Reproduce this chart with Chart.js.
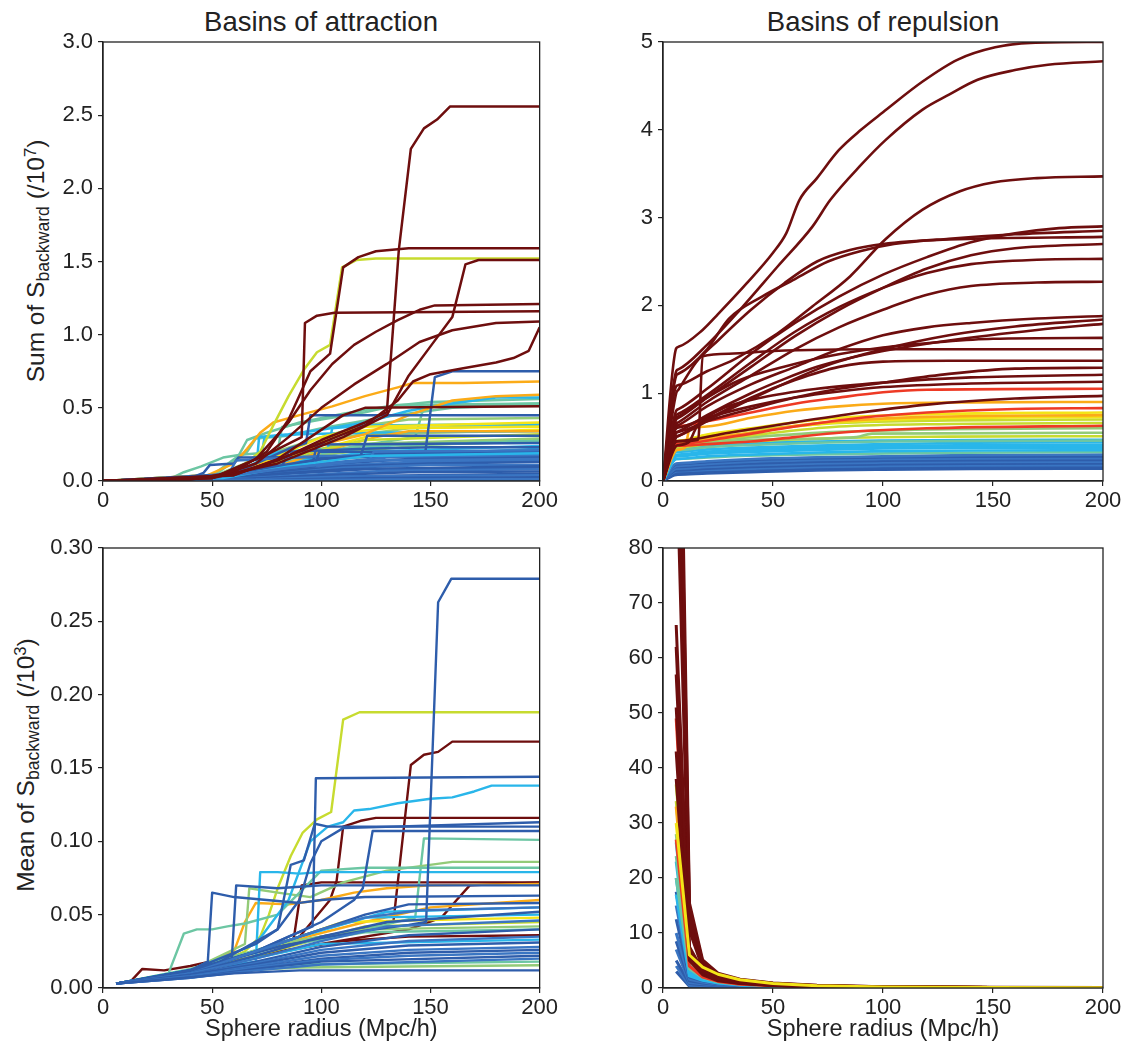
<!DOCTYPE html>
<html><head><meta charset="utf-8">
<script src="https://cdn.jsdelivr.net/npm/chart.js@4.4.1/dist/chart.umd.min.js"></script>
<style>
body{margin:0;background:#fff;width:1129px;height:1055px;position:relative;overflow:hidden;font-family:"Liberation Sans",Arial,Helvetica,sans-serif;color:#222}
canvas{position:absolute}
.title{position:absolute;font-size:27.5px;transform:translate(-50%,-50%);white-space:nowrap;line-height:1.15}
.ylab{position:absolute;font-size:24.5px;white-space:nowrap;transform:translate(-50%,-50%) rotate(-90deg);line-height:1.15}
.ylab .sub{font-size:0.72em;position:relative;top:0.3em}
.ylab .sup{font-size:0.68em;position:relative;top:-0.5em}
</style></head>
<body>
<div class="title" style="left:321px;top:22px">Basins of attraction</div>
<div class="title" style="left:883px;top:22px">Basins of repulsion</div>
<div class="ylab" style="left:36px;top:261px">Sum of S<span class="sub">backward</span> (/10<span class="sup">7</span>)</div>
<div class="ylab" style="left:26px;top:765px">Mean of S<span class="sub">backward</span> (/10<span class="sup">3</span>)</div>
<canvas id="cA" width="560" height="520" style="left:0;top:0"></canvas>
<canvas id="cB" width="569" height="520" style="left:560px;top:0"></canvas>
<canvas id="cC" width="560" height="535" style="left:0;top:520px"></canvas>
<canvas id="cD" width="569" height="535" style="left:560px;top:520px"></canvas>
<script>
// colour levels (colour-mapped basin property, low -> high)
const palette = ['#2e5dab','#3a75c2','#29b6ea','#6cc6a3','#93cb78','#c7db2f','#f3e417','#fbab18','#ee3a25','#6e0e0e'];

const xTicks = [0, 50, 100, 150, 200];

// ---- Panel A: Sum of S_backward, basins of attraction (/1e7) ----
const sumAttraction = [
  [[0,0],[50,0.03],[66,0.2],[70,0.29],[85,0.31],[100,0.36],[130,0.44],[160,0.5],[200,0.52]],
  [[0,0],[55,0.03],[80,0.14],[110,0.3],[140,0.36],[200,0.38]],
  [[0,0],[65,0.04],[95,0.2],[125,0.32],[200,0.35]],
  [[0,0],[60,0.04],[72,0.12],[74,0.3],[90,0.32],[120,0.33],[200,0.34]],
  [[0,0],[50,0.02],[80,0.1],[110,0.2],[140,0.26],[200,0.28]],
  [[0,0],[60,0.03],[100,0.18],[150,0.25],[200,0.27]],
  [[0,0],[30,0.01],[37,0.06],[45,0.1],[55,0.16],[63,0.18],[80,0.2],[82,0.37],[100,0.42],[120,0.47],[135,0.52],[200,0.53]],
  [[0,0],[50,0.04],[62,0.17],[66,0.28],[75,0.33],[90,0.4],[110,0.46],[130,0.51],[150,0.54],[200,0.56]],
  [[0,0],[60,0.04],[100,0.2],[143,0.3],[147,0.51],[200,0.53]],
  [[0,0],[55,0.03],[85,0.15],[120,0.24],[200,0.27]],
  [[0,0],[50,0.03],[75,0.18],[100,0.3],[120,0.38],[140,0.42],[200,0.43]],
  [[0,0],[50,0.03],[80,0.15],[110,0.25],[200,0.29]],
  [[0,0],[60,0.03],[100,0.14],[140,0.19],[200,0.21]],
  [[0,0],[40,0.01],[70,0.05],[71.5,0.3],[85,0.32],[100,0.35],[120,0.4],[140,0.48],[160,0.53],[180,0.57],[200,0.57]],
  [[0,0],[60,0.05],[80,0.2],[103,0.22],[105,0.36],[120,0.38],[200,0.39]],
  [[0,0],[60,0.03],[90,0.12],[120,0.2],[200,0.24]],
  [[0,0],[60,0.03],[100,0.15],[200,0.22]],
  [[0,0],[55,0.03],[80,0.12],[100,0.16],[125,0.19],[200,0.2]],
  [[0,0],[60,0.05],[85,0.2],[100,0.3],[120,0.37],[200,0.4]],
  [[0,0],[60,0.04],[90,0.2],[110,0.33],[130,0.36],[200,0.37]],
  [[0,0],[45,0.02],[60,0.12],[66,0.22],[72,0.33],[78,0.4],[90,0.45],[105,0.51],[120,0.58],[135,0.64],[142,0.67],[165,0.67],[200,0.68]],
  [[0,0],[60,0.05],[80,0.15],[100,0.25],[120,0.32],[140,0.45],[160,0.55],[180,0.58],[200,0.59]],
  [[0,0],[70,0.05],[100,0.2],[125,0.3],[140,0.34],[200,0.34]],
  [[0,0],[60,0.04],[90,0.18],[120,0.28],[200,0.32]],
  [[0,0],[40,0.01],[60,0.06],[72,0.2],[78,0.38],[85,0.58],[92,0.76],[98,0.88],[104,0.93],[109.5,1.46],[116,1.51],[125,1.52],[200,1.52]],
  [[0,0],[50,0.02],[80,0.06],[120,0.1],[147,0.12],[152,0.71],[160,0.75],[200,0.75]],
  [[0,0],[60,0.05],[85,0.22],[93,0.26],[95,0.45],[200,0.45]],
  [[0,0],[60,0.04],[100,0.15],[118,0.17],[121,0.31],[200,0.31]],
  [[0,0],[60,0.04],[90,0.1],[96,0.12],[98,0.25],[200,0.26]],
  [[0,0],[60,0.04],[82,0.1],[85,0.2],[120,0.22],[150,0.23],[200,0.23]],
  [[0,0],[40,0.02],[46,0.055],[49,0.11],[60,0.12],[62,0.16],[200,0.17]],
  [[0,0],[40,0.01],[58,0.06],[61,0.14],[100,0.17],[200,0.18]],
  [[0,0],[40,0.01],[70,0.08],[100,0.15],[130,0.19],[200,0.2]],
  [[0,0],[45,0.01],[75,0.07],[100,0.12],[130,0.16],[200,0.17]],
  [[0,0],[40,0.01],[70,0.06],[100,0.11],[140,0.15],[200,0.16]],
  [[0,0],[45,0.01],[75,0.06],[100,0.1],[140,0.13],[200,0.14]],
  [[0,0],[50,0.01],[80,0.06],[110,0.1],[150,0.12],[200,0.13]],
  [[0,0],[50,0.01],[80,0.05],[110,0.09],[150,0.11],[200,0.11]],
  [[0,0],[50,0.01],[80,0.05],[110,0.08],[200,0.1]],
  [[0,0],[55,0.01],[85,0.05],[120,0.08],[200,0.09]],
  [[0,0],[55,0.01],[90,0.04],[130,0.07],[200,0.08]],
  [[0,0],[60,0.01],[100,0.04],[140,0.06],[200,0.065]],
  [[0,0],[60,0.01],[100,0.03],[200,0.05]],
  [[0,0],[70,0.01],[110,0.03],[200,0.04]],
  [[0,0],[70,0.005],[120,0.02],[200,0.025]],
  [[0,0],[80,0.005],[130,0.01],[200,0.012]],
  [[0,0],[60,0.04],[97,0.1],[99,0.2],[200,0.2]],
  [[0,0],[50,0.02],[80,0.08],[110,0.13],[122,0.14],[124,0.2],[200,0.21]],
  [[0,0],[55,0.02],[85,0.1],[120,0.17],[200,0.19]],
  [[0,0],[50,0.02],[85,0.09],[120,0.14],[200,0.15]],
  [[0,0],[40,0.01],[60,0.05],[80,0.14],[100,0.28],[120,0.4],[130,0.47],[135.5,1.58],[141,2.27],[147,2.41],[153,2.47],[159,2.56],[200,2.56]],
  [[0,0],[40,0.01],[60,0.06],[75,0.2],[85,0.42],[95,0.75],[104,0.87],[110,1.46],[117,1.53],[125,1.57],[140,1.59],[200,1.59]],
  [[0,0],[50,0.02],[80,0.12],[110,0.3],[130,0.45],[140,0.72],[150,0.92],[160,1.12],[166,1.48],[172,1.51],[200,1.51]],
  [[0,0],[50,0.02],[70,0.15],[85,0.4],[95,0.62],[105,0.8],[115,0.93],[125,1.02],[135,1.1],[145,1.17],[152,1.2],[200,1.21]],
  [[0,0],[50,0.02],[75,0.18],[91,0.3],[92.5,1.08],[98,1.13],[106,1.15],[200,1.16]],
  [[0,0],[50,0.02],[70,0.12],[85,0.3],[100,0.5],[115,0.66],[130,0.8],[145,0.95],[160,1.03],[180,1.08],[200,1.09]],
  [[0,0],[60,0.04],[90,0.2],[120,0.38],[135,0.55],[142,0.68],[150,0.73],[165,0.77],[180,0.81],[188,0.84],[195,0.89],[200,1.05]],
  [[0,0],[60,0.04],[80,0.15],[95,0.3],[110,0.45],[120,0.5],[200,0.51]]
];
const sumAttractionLevel = [3,4,6,2,2,4,
  3,3,3,3,4,4,4,2,2,2,2,2,6,6,7,7,7,5,5,
  0,0,0,0,0,0,1,0,1,0,1,0,1,0,0,1,0,0,1,0,1,
  0,1,2,1,
  9,9,9,9,9,9,9,9];

// ---- Panel B: Sum of S_backward, basins of repulsion (/1e7) ----
const sumRepulsion = [
  [[0,0],[6,0.07],[7,0.071],[20,0.085],[40,0.1],[70,0.12],[100,0.13],[140,0.138],[200,0.14]],
  [[0,0],[6,0.09],[7,0.091],[20,0.105],[40,0.12],[70,0.14],[100,0.15],[140,0.158],[200,0.16]],
  [[0,0],[6,0.11],[7,0.111],[20,0.125],[40,0.14],[70,0.16],[100,0.17],[140,0.178],[200,0.18]],
  [[0,0],[6,0.12],[7,0.121],[20,0.14],[40,0.16],[70,0.18],[100,0.19],[140,0.198],[200,0.2]],
  [[0,0],[6,0.14],[7,0.141],[20,0.16],[40,0.18],[70,0.2],[100,0.21],[140,0.218],[200,0.22]],
  [[0,0],[6,0.16],[7,0.161],[20,0.18],[40,0.2],[70,0.22],[100,0.23],[140,0.238],[200,0.24]],
  [[0,0],[6,0.17],[7,0.172],[20,0.195],[40,0.22],[70,0.24],[100,0.25],[140,0.258],[200,0.26]],
  [[0,0],[6,0.19],[7,0.192],[20,0.215],[40,0.24],[70,0.26],[100,0.27],[140,0.278],[200,0.28]],
  [[0,0],[6,0.2],[7,0.202],[20,0.225],[40,0.25],[70,0.27],[100,0.28],[140,0.295],[200,0.3]],
  [[0,0],[6,0.25],[7,0.251],[30,0.28],[60,0.3],[120,0.32],[200,0.33]],
  [[0,0],[6,0.25],[7,0.252],[20,0.28],[40,0.3],[70,0.325],[100,0.34],[140,0.348],[200,0.35]],
  [[0,0],[6,0.28],[7,0.282],[20,0.31],[40,0.33],[70,0.355],[100,0.37],[140,0.378],[200,0.38]],
  [[0,0],[6,0.29],[7,0.292],[20,0.325],[40,0.35],[70,0.37],[100,0.385],[140,0.392],[200,0.395]],
  [[0,0],[6,0.3],[7,0.302],[20,0.335],[40,0.36],[70,0.385],[100,0.4],[140,0.407],[200,0.41]],
  [[0,0],[6,0.33],[7,0.332],[20,0.36],[40,0.38],[70,0.405],[100,0.42],[140,0.435],[200,0.44]],
  [[0,0],[6,0.36],[7,0.363],[20,0.4],[40,0.43],[70,0.45],[100,0.46],[140,0.467],[200,0.47]],
  [[0,0],[6,0.35],[7,0.352],[20,0.385],[40,0.41],[70,0.435],[100,0.45],[140,0.457],[200,0.46]],
  [[0,0],[6,0.38],[7,0.383],[20,0.42],[40,0.45],[80,0.49],[130,0.505],[200,0.51]],
  [[0,0],[6,0.4],[7,0.403],[20,0.44],[40,0.47],[88,0.5],[95,0.54],[200,0.55]],
  [[0,0],[6,0.42],[7,0.423],[20,0.46],[40,0.5],[80,0.56],[130,0.59],[200,0.6]],
  [[0,0],[6,0.4],[7,0.404],[20,0.46],[40,0.52],[80,0.62],[130,0.65],[200,0.66]],
  [[0,0],[6,0.45],[7,0.455],[20,0.52],[40,0.58],[80,0.66],[130,0.69],[200,0.7]],
  [[0,0],[6,0.42],[7,0.425],[20,0.49],[40,0.55],[60,0.62],[80,0.67],[120,0.71],[200,0.73]],
  [[0,0],[6,0.45],[7,0.456],[20,0.53],[40,0.6],[60,0.67],[80,0.72],[120,0.76],[200,0.78]],
  [[0,0],[6,0.4],[7,0.406],[20,0.48],[40,0.55],[60,0.63],[80,0.68],[120,0.73],[200,0.75]],
  [[0,0],[6,0.35],[7,0.357],[10,0.38],[12,0.58],[20,0.62],[40,0.72],[60,0.8],[80,0.85],[100,0.88],[140,0.895],[200,0.9]],
  [[0,0],[6,0.4],[7,0.401],[20,0.42],[40,0.45],[60,0.5],[80,0.55],[120,0.6],[200,0.63]],
  [[0,0],[6,0.42],[7,0.423],[30,0.5],[60,0.62],[90,0.72],[120,0.78],[160,0.82],[200,0.83]],
  [[0,0],[6,0.62],[7,0.624],[20,0.68],[40,0.78],[60,0.88],[80,0.95],[100,1.01],[120,1.04],[200,1.05]],
  [[0,0],[6,0.45],[7,0.454],[30,0.55],[60,0.67],[90,0.78],[120,0.87],[160,0.94],[200,0.97]],
  [[0,0],[6,0.6],[7,0.609],[20,0.72],[40,0.85],[60,0.95],[80,1.02],[100,1.07],[140,1.11],[200,1.13]],
  [[0,0],[6,0.4],[7,0.408],[12,0.45],[15,0.6],[25,0.8],[45,0.95],[70,1.05],[100,1.12],[140,1.18],[200,1.21]],
  [[0,0],[6,0.55],[7,0.559],[20,0.68],[40,0.82],[60,0.95],[80,1.05],[100,1.12],[130,1.22],[160,1.28],[200,1.29]],
  [[0,0],[6,0.5],[7,0.514],[20,0.7],[40,0.95],[60,1.15],[80,1.3],[100,1.36],[130,1.37],[200,1.37]],
  [[0,0],[6,0.45],[7,0.452],[16,0.47],[18,1.42],[30,1.45],[50,1.48],[100,1.5],[200,1.5]],
  [[0,0],[6,0.72],[7,0.736],[20,0.95],[35,1.15],[55,1.3],[75,1.42],[100,1.52],[125,1.58],[150,1.62],[200,1.63]],
  [[0,0],[6,0.55],[7,0.564],[20,0.75],[40,1.0],[55,1.16],[70,1.3],[85,1.4],[100,1.48],[130,1.6],[170,1.72],[200,1.79]],
  [[0,0],[6,0.5],[7,0.513],[25,0.75],[50,1.05],[75,1.32],[100,1.5],[130,1.66],[160,1.76],[200,1.84]],
  [[0,0],[6,0.62],[7,0.636],[20,0.85],[40,1.1],[60,1.3],[80,1.5],[100,1.66],[120,1.75],[140,1.8],[170,1.85],[200,1.88]],
  [[0,0],[6,0.65],[7,0.668],[20,0.9],[40,1.2],[60,1.5],[80,1.75],[100,1.95],[120,2.12],[140,2.22],[170,2.26],[200,2.27]],
  [[0,0],[6,0.75],[7,0.766],[20,0.98],[40,1.35],[60,1.7],[80,1.98],[100,2.2],[120,2.37],[140,2.47],[170,2.52],[200,2.53]],
  [[0,0],[6,0.7],[7,0.718],[20,0.95],[40,1.3],[60,1.65],[80,1.95],[100,2.2],[120,2.42],[140,2.57],[160,2.65],[200,2.7]],
  [[0,0],[6,1.0],[7,1.039],[15,1.35],[25,1.6],[40,1.95],[55,2.25],[70,2.5],[85,2.63],[100,2.7],[130,2.75],[200,2.78]],
  [[0,0],[6,1.2],[7,1.221],[20,1.5],[30,1.85],[45,2.1],[60,2.3],[75,2.5],[90,2.62],[105,2.7],[130,2.76],[160,2.81],[200,2.85]],
  [[0,0],[6,0.8],[7,0.818],[20,1.05],[40,1.45],[60,1.8],[80,2.1],[100,2.35],[120,2.55],[140,2.72],[160,2.82],[180,2.88],[200,2.9]],
  [[0,0],[6,1.08],[7,1.092],[20,1.25],[32,1.38],[52,1.68],[68,1.99],[85,2.33],[101,2.75],[118,3.09],[135,3.3],[150,3.4],[170,3.45],[200,3.47]],
  [[0,0],[6,1.25],[7,1.271],[20,1.55],[35,1.95],[52,2.44],[68,2.9],[76,3.2],[90,3.6],[101,3.88],[118,4.23],[130,4.4],[143,4.57],[160,4.68],[175,4.74],[200,4.78]],
  [[0,0],[6,1.51],[7,1.528],[18,1.72],[25,1.9],[38,2.25],[50,2.6],[56,2.82],[62,3.2],[70,3.45],[80,3.77],[90,4.0],[100,4.2],[118,4.55],[134,4.8],[151,4.94],[167,4.99],[200,5.0]]
];
const sumRepulsionLevel = [0,0,1,0,1,0,1,0,1,
  3,2,2,2,2,2,2,3,
  5,4,4,5,5,6,6,7,7,
  8,8,8,
  9,9,9,9,9,9,9,9,9,9,9,9,9,9,9,9,9,9,9];

// ---- Panel C: Mean of S_backward, basins of attraction (/1e3) ----
const meanAttraction = [
  [[6,0.003],[40,0.012],[80,0.025],[110,0.032],[140,0.035],[200,0.036]],
  [[6,0.003],[50,0.015],[100,0.03],[140,0.04],[155,0.048],[162,0.06],[168,0.07],[200,0.072]],
  [[6,0.003],[13,0.005],[18,0.013],[28,0.012],[40,0.015],[70,0.025],[100,0.035],[125,0.042],[133,0.045],[141,0.152],[147,0.159],[153.5,0.161],[160,0.168],[200,0.168]],
  [[6,0.003],[40,0.012],[70,0.025],[90,0.035],[104,0.06],[107,0.073],[110,0.11],[118,0.114],[125,0.116],[200,0.116]],
  [[6,0.003],[40,0.012],[70,0.025],[87,0.03],[91,0.07],[100,0.072],[200,0.072]],
  [[6,0.003],[30,0.008],[50,0.015],[65,0.025],[72,0.035],[76,0.05],[80,0.068],[86,0.09],[91.5,0.106],[98,0.115],[104.5,0.12],[110,0.183],[117.5,0.188],[200,0.188]],
  [[6,0.003],[40,0.012],[60,0.025],[65,0.045],[70,0.058],[85,0.057],[100,0.06],[115,0.065],[130,0.068],[150,0.07],[200,0.071]],
  [[6,0.003],[50,0.015],[80,0.03],[120,0.045],[150,0.055],[200,0.06]],
  [[6,0.003],[50,0.015],[80,0.03],[110,0.045],[200,0.048]],
  [[6,0.003],[50,0.014],[90,0.03],[120,0.042],[200,0.045]],
  [[6,0.003],[40,0.013],[80,0.03],[120,0.04],[143,0.048],[147,0.102],[200,0.101]],
  [[6,0.003],[40,0.012],[65,0.03],[67,0.068],[80,0.065],[95,0.062],[110,0.072],[130,0.08],[160,0.086],[200,0.086]],
  [[6,0.003],[30,0.01],[37,0.037],[43,0.04],[50,0.04],[57,0.042],[65,0.044],[80,0.05],[100,0.08],[120,0.082],[200,0.082]],
  [[6,0.003],[40,0.012],[80,0.028],[120,0.038],[200,0.04]],
  [[6,0.003],[40,0.012],[80,0.03],[120,0.04],[200,0.042]],
  [[6,0.003],[50,0.012],[90,0.016],[200,0.018]],
  [[6,0.003],[50,0.011],[90,0.014],[200,0.0155]],
  [[6,0.003],[40,0.012],[70,0.018],[72,0.079],[80,0.079],[90,0.078],[100,0.079],[200,0.079]],
  [[6,0.003],[40,0.012],[70,0.03],[85,0.06],[95,0.1],[103,0.11],[110,0.113],[115,0.121],[122,0.122],[135,0.126],[150,0.129],[160,0.13],[170,0.134],[178,0.138],[200,0.138]],
  [[6,0.003],[50,0.015],[90,0.035],[120,0.048],[200,0.05]],
  [[6,0.003],[50,0.015],[90,0.035],[130,0.052],[200,0.055]],
  [[6,0.003],[50,0.014],[100,0.03],[200,0.033]],
  [[6,0.003],[20,0.006],[40,0.012],[60,0.02],[80,0.028],[100,0.034],[120,0.039],[140,0.043],[148,0.045],[153.5,0.263],[159.5,0.279],[200,0.279]],
  [[6,0.003],[30,0.008],[50,0.016],[70,0.025],[85,0.035],[96,0.042],[97.5,0.143],[200,0.144]],
  [[6,0.003],[40,0.012],[70,0.03],[80,0.04],[86,0.084],[92,0.087],[97,0.112],[103,0.11],[200,0.11]],
  [[6,0.003],[40,0.012],[70,0.025],[100,0.045],[115,0.06],[119,0.068],[123.5,0.107],[200,0.107]],
  [[6,0.003],[50,0.015],[80,0.04],[90,0.06],[95,0.085],[100,0.1],[110,0.109],[200,0.113]],
  [[6,0.003],[40,0.012],[48,0.018],[50,0.065],[60,0.062],[75,0.06],[90,0.058],[100,0.06],[120,0.062],[200,0.063]],
  [[6,0.003],[40,0.012],[59,0.02],[61,0.07],[70,0.069],[80,0.068],[90,0.069],[100,0.07],[200,0.07]],
  [[6,0.003],[40,0.01],[60,0.02],[80,0.03],[100,0.04],[120,0.05],[140,0.057],[200,0.058]],
  [[6,0.003],[40,0.01],[60,0.02],[80,0.03],[100,0.04],[120,0.048],[145,0.053],[200,0.055]],
  [[6,0.003],[40,0.01],[70,0.022],[100,0.035],[130,0.045],[200,0.052]],
  [[6,0.003],[40,0.01],[70,0.02],[100,0.032],[130,0.042],[200,0.046]],
  [[6,0.003],[40,0.009],[70,0.018],[100,0.028],[140,0.036],[200,0.04]],
  [[6,0.003],[40,0.009],[70,0.017],[100,0.026],[140,0.032],[200,0.035]],
  [[6,0.003],[40,0.009],[70,0.016],[100,0.024],[140,0.029],[200,0.031]],
  [[6,0.003],[40,0.008],[70,0.015],[100,0.022],[140,0.026],[200,0.028]],
  [[6,0.003],[40,0.008],[70,0.014],[100,0.02],[140,0.024],[200,0.026]],
  [[6,0.003],[40,0.008],[70,0.014],[100,0.019],[140,0.022],[200,0.024]],
  [[6,0.003],[40,0.007],[70,0.013],[100,0.018],[200,0.022]],
  [[6,0.003],[40,0.007],[70,0.012],[100,0.016],[200,0.02]],
  [[6,0.003],[30,0.006],[60,0.01],[90,0.012],[200,0.012]]
];
const meanAttractionLevel = [9,9,9,9,9,5,7,7,6,5,3,4,3,3,4,3,4,2,2,2,2,2,
  0,0,0,0,0,0,0,0,1,0,1,0,1,0,1,0,1,0,1,0];

// ---- Panel D: Mean of S_backward, basins of repulsion (/1e3) ----
const meanRepulsionRadius = [6, 12, 18, 25, 35, 50, 70, 100, 150, 200];
const meanRepulsion = [
  [3,0.3,0.3,0.25,0.2,0.12,0.07,0.03,0.02,0.01],
  [4,0.5,0.45,0.35,0.25,0.15,0.08,0.04,0.02,0.01],
  [5,0.8,0.6,0.45,0.3,0.17,0.1,0.05,0.02,0.01],
  [7,1.0,0.75,0.5,0.35,0.2,0.11,0.05,0.03,0.01],
  [8.5,1.3,0.9,0.6,0.4,0.22,0.12,0.06,0.03,0.02],
  [10,1.6,1.1,0.7,0.45,0.25,0.13,0.06,0.03,0.02],
  [12.5,2,1.3,0.8,0.5,0.27,0.14,0.07,0.04,0.02],
  [15,2.5,1.5,0.9,0.55,0.3,0.16,0.08,0.04,0.02],
  [17.5,3,1.8,1.1,0.65,0.35,0.18,0.09,0.05,0.02],
  [17,2.2,1.4,0.9,0.55,0.3,0.15,0.07,0.04,0.02],
  [20,2.5,1.6,1.0,0.6,0.33,0.17,0.08,0.04,0.02],
  [23,3,1.8,1.1,0.65,0.36,0.19,0.09,0.05,0.03],
  [26.5,3.5,2.0,1.2,0.7,0.4,0.21,0.1,0.05,0.03],
  [20,3.5,1.9,1.1,0.7,0.4,0.22,0.11,0.05,0.03],
  [24,4.2,2.2,1.3,0.8,0.45,0.24,0.12,0.06,0.03],
  [28,5,2.6,1.5,0.9,0.5,0.27,0.13,0.07,0.04],
  [34,6.5,3.2,1.8,1.1,0.6,0.32,0.16,0.08,0.04],
  [37,7,3.5,2.0,1.2,0.65,0.35,0.17,0.09,0.05],
  [33,5,2.6,1.6,1,0.55,0.3,0.15,0.08,0.04],
  [27,4,2,1.2,0.7,0.4,0.22,0.11,0.06,0.03],
  [49,6,2.7,1.5,0.9,0.5,0.27,0.13,0.07,0.04],
  [38,5,2.4,1.3,0.8,0.45,0.25,0.12,0.06,0.03],
  [43,5.5,2.6,1.4,0.85,0.48,0.26,0.13,0.06,0.03],
  [51,6,2.8,1.5,0.9,0.5,0.27,0.13,0.07,0.04],
  [57,6.5,2.9,1.6,0.95,0.52,0.28,0.14,0.07,0.04],
  [62,7,3,1.7,1,0.55,0.3,0.15,0.08,0.04],
  [66,7.5,3.2,1.8,1.1,0.6,0.33,0.16,0.08,0.04],
  [100,10.5,3.6,2.0,1.2,0.7,0.38,0.18,0.09,0.05],
  [115,12,4.0,2.1,1.3,0.75,0.4,0.19,0.1,0.05],
  [130,13.5,4.4,2.3,1.4,0.8,0.42,0.2,0.1,0.06],
  [145,14.5,4.8,2.5,1.5,0.85,0.45,0.22,0.11,0.06],
  [160,15.5,5.1,2.7,1.6,0.9,0.5,0.25,0.12,0.07],
  [30,6,3.8,2.5,1.5,0.8,0.42,0.2,0.1,0.05]
];
const meanRepulsionLevel = [0,1,0,1,0,1,0,1,0,2,2,2,2,3,3,4,5,5,7,8,8,9,9,9,9,9,9,9,9,9,9,9,6];

const INK = '#222';
const FONT = '"Liberation Sans", Arial, Helvetica, sans-serif';

const boxPlugin = {
  id: 'box',
  afterDraw(chart) {
    const a = chart.chartArea, c = chart.ctx;
    c.save(); c.strokeStyle = INK; c.lineWidth = 1.3;
    c.strokeRect(a.left, a.top, a.right - a.left, a.bottom - a.top);
    c.restore();
  }
};

function makeChart(id, series, levels, cfg) {
  if (series.length !== levels.length) console.error(id + ': ' + series.length + ' lines vs ' + levels.length + ' levels');
  const datasets = series.map((pts, i) => ({
    data: pts.map((p, j) => Array.isArray(p) ? {x: p[0], y: p[1]} : {x: cfg.xs[j], y: p}),
    borderColor: palette[levels[i]] || palette[9],
    borderWidth: cfg.lw,
    borderJoinStyle: 'round',
    pointRadius: 0,
    fill: false,
    tension: 0,
    clip: 0,
    cubicInterpolationMode: cfg.smooth ? 'monotone' : 'default',
    order: series.length - i
  }));
  const tickFont = {family: FONT, size: 22};
  return new Chart(document.getElementById(id), {
    type: 'line',
    data: {datasets},
    options: {
      responsive: false, animation: false,
      layout: {padding: {left: 0, right: cfg.pr, top: cfg.pt, bottom: 0}},
      plugins: {legend: {display: false}, tooltip: {enabled: false}},
      scales: {
        x: {
          type: 'linear', min: 0, max: 200,
          afterBuildTicks: s => { s.ticks = xTicks.map(v => ({value: v})); },
          ticks: {font: tickFont, color: INK, padding: 2, maxRotation: 0},
          grid: {display: true, drawOnChartArea: false, drawTicks: true, tickLength: 5, color: INK, lineWidth: 1.2},
          border: {display: true, color: INK, width: 1.3},
          title: {display: !!cfg.xTitle, text: cfg.xTitle || '', color: INK, font: {family: FONT, size: 23.5}, padding: {top: 0, bottom: 11}},
          afterFit: s => { s.height = cfg.xh; }
        },
        y: {
          type: 'linear', min: 0, max: cfg.ymax,
          afterBuildTicks: s => { s.ticks = cfg.yTicks.map(v => ({value: v})); },
          ticks: {font: tickFont, color: INK, padding: 5, callback: v => v.toFixed(cfg.dec)},
          grid: {display: true, drawOnChartArea: false, drawTicks: true, tickLength: 5, color: INK, lineWidth: 1.2},
          border: {display: true, color: INK, width: 1.3},
          afterFit: s => { s.width = cfg.yw; }
        }
      }
    },
    plugins: [boxPlugin]
  });
}

makeChart('cA', sumAttraction, sumAttractionLevel,
  {ymax: 3, yTicks: [0, 0.5, 1, 1.5, 2, 2.5, 3], dec: 1, yw: 103, xh: 39, pt: 42, pr: 20, lw: 2.5});
makeChart('cB', sumRepulsion, sumRepulsionLevel,
  {ymax: 5, yTicks: [0, 1, 2, 3, 4, 5], dec: 0, yw: 103, xh: 39, pt: 42, pr: 26, lw: 2.6, smooth: true});
makeChart('cC', meanAttraction, meanAttractionLevel,
  {ymax: 0.3, yTicks: [0, 0.05, 0.1, 0.15, 0.2, 0.25, 0.3], dec: 2, yw: 103, xh: 67, pt: 28, pr: 20, lw: 2.4, xTitle: 'Sphere radius (Mpc/h)'});
makeChart('cD', meanRepulsion, meanRepulsionLevel,
  {ymax: 80, yTicks: [0, 10, 20, 30, 40, 50, 60, 70, 80], dec: 0, yw: 103, xh: 67, pt: 28, pr: 26, lw: 3, xTitle: 'Sphere radius (Mpc/h)', xs: meanRepulsionRadius});
</script>
</body></html>
